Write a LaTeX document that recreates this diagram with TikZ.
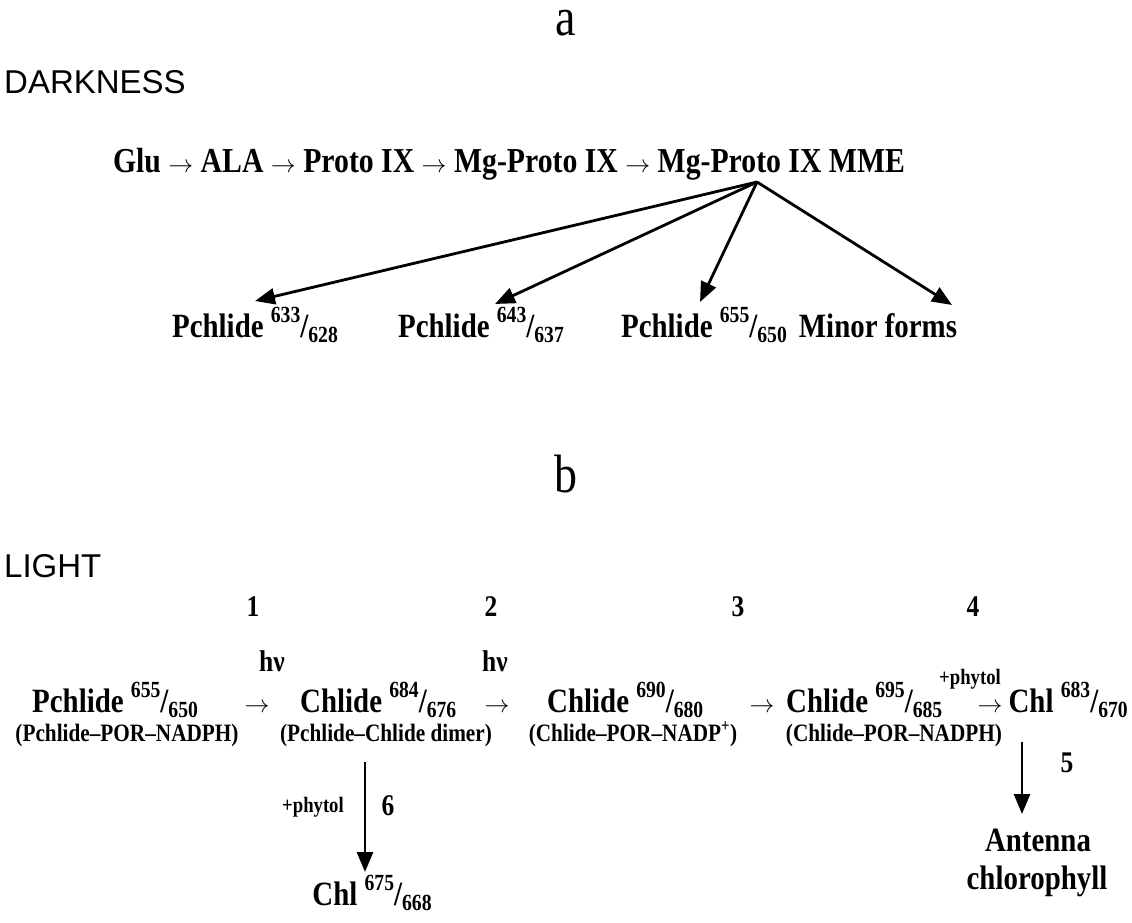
\documentclass[tikz,border=0pt]{standalone}
\usepackage{fontspec}
\setmainfont{Liberation Serif}[FakeStretch=0.85]
\newfontfamily\sansfam{Liberation Sans}
\usetikzlibrary{arrows.meta}
\makeatletter
\newcommand{\wl}[2]{{\dimen0=\f@size pt\relax\dimen2=0.68\dimen0\relax
  \raisebox{0.42em}{\fontsize{\the\dimen2}{\the\dimen2}\selectfont #1}/\raisebox{-0.17em}{\fontsize{\the\dimen2}{\the\dimen2}\selectfont #2}}}
\makeatother
\newcommand{\ar}{\ensuremath{\rightarrow}}
\begin{document}
\begin{tikzpicture}[x=1pt,y=-1pt,
 line/.style={font=\fontsize{35}{38}\selectfont\bfseries, inner sep=0pt, anchor=base},
 big/.style={font=\fontsize{34}{38}\selectfont\bfseries, inner sep=0pt, anchor=base},
 bigb/.style={font=\fontsize{34}{38}\selectfont\bfseries, inner sep=0pt, anchor=base},
 arrn/.style={font=\fontsize{36}{38}\selectfont, inner sep=0pt, anchor=base, text height=12pt, text depth=0pt},
 sub/.style={font=\fontsize{25}{28}\selectfont\bfseries, inner sep=0pt, anchor=base},
 phy/.style={font=\fontsize{22}{26}\selectfont\bfseries, inner sep=0pt, anchor=base},
 num/.style={font=\fontsize{30}{32}\selectfont\bfseries, inner sep=0pt, anchor=base},
 letter/.style={font=\fontsize{54}{56}\selectfont, inner sep=0pt, anchor=base, text height=26pt},
 head/.style={font=\sansfam\fontsize{33}{36}\selectfont, inner sep=0pt, anchor=base west},
 arr/.style={line width=2.8pt, -{Triangle[length=20pt,width=16pt]}},
]
\useasboundingbox (0,0) rectangle (1132,923);
% ---- part a
\node[letter] (la) at (566,36) {a};
\node[head] (dark) at (4,94) {DARKNESS};
\node[line] (path) at (509,172) {Glu \ar{} ALA \ar{} Proto IX \ar{} Mg-Proto IX \ar{} Mg-Proto IX MME};
\node[big] (p1) at (255,337) {Pchlide \wl{633}{628}};
\node[big] (p2) at (481,337) {Pchlide \wl{643}{637}};
\node[big] (p3) at (704,337) {Pchlide \wl{655}{650}};
\node[big] (mf) at (878,337) {Minor forms};
\coordinate (src) at (757,182);
\coordinate (t1) at (255,301);
\coordinate (t2) at (495,304);
\coordinate (t3) at (700,302);
\coordinate (t4) at (952,305);
\draw[arr] (src) -- (t1);
\draw[arr] (src) -- (t2);
\draw[arr] (src) -- (t3);
\draw[arr] (src) -- (t4);
% ---- part b
\node[letter] (lb) at (566,492) {b};
\node[head] (light) at (4,577) {LIGHT};
\node[num] (n1) at (253,616) {1};
\node[num] (n2) at (491,616) {2};
\node[num] (n3) at (738,616) {3};
\node[num] (n4) at (973,616) {4};
\node[num] (hv1) at (272,671) {hν};
\node[num] (hv2) at (495,671) {hν};
\node[phy] (ph1) at (970,684) {+phytol};
\node[bigb, anchor=base west] (s1) at (32,712) {Pchlide \wl{655}{650}};
\node[arrn] (r1) at (257,712) {\ar};
\node[bigb, anchor=base west] (s2) at (300,712) {Chlide \wl{684}{676}};
\node[arrn] (r2) at (497,712) {\ar};
\node[bigb, anchor=base west] (s3) at (547,712) {Chlide \wl{690}{680}};
\node[arrn] (r3) at (762,712) {\ar};
\node[bigb, anchor=base west] (s4) at (786,712) {Chlide \wl{695}{685}};
\node[arrn] (r4) at (990,712) {\ar};
\node[bigb, anchor=base east] (s5) at (1128,712) {Chl \wl{683}{670}};
\node[sub] (d1) at (127,741) {(Pchlide--POR--NADPH)};
\node[sub] (d2) at (386,741) {(Pchlide--Chlide dimer)};
\node[sub] (d3) at (633,741) {(Chlide--POR--NADP\textsuperscript{+})};
\node[sub] (d4) at (894,741) {(Chlide--POR--NADPH)};
\coordinate (a6s) at (365,762);
\coordinate (a6e) at (365,872);
\draw[arr] (a6s) -- (a6e);
\node[phy] (ph2) at (313,812) {+phytol};
\node[num] (n6) at (388,815) {6};
\node[bigb] (c6) at (372,905) {Chl \wl{675}{668}};
\coordinate (a5s) at (1022,742);
\coordinate (a5e) at (1022,814);
\draw[arr] (a5s) -- (a5e);
\node[num] (n5) at (1067,772) {5};
\node[bigb] (ant) at (1038,851) {Antenna};
\node[big] (chl) at (1037,889) {chlorophyll};
\end{tikzpicture}
\end{document}
